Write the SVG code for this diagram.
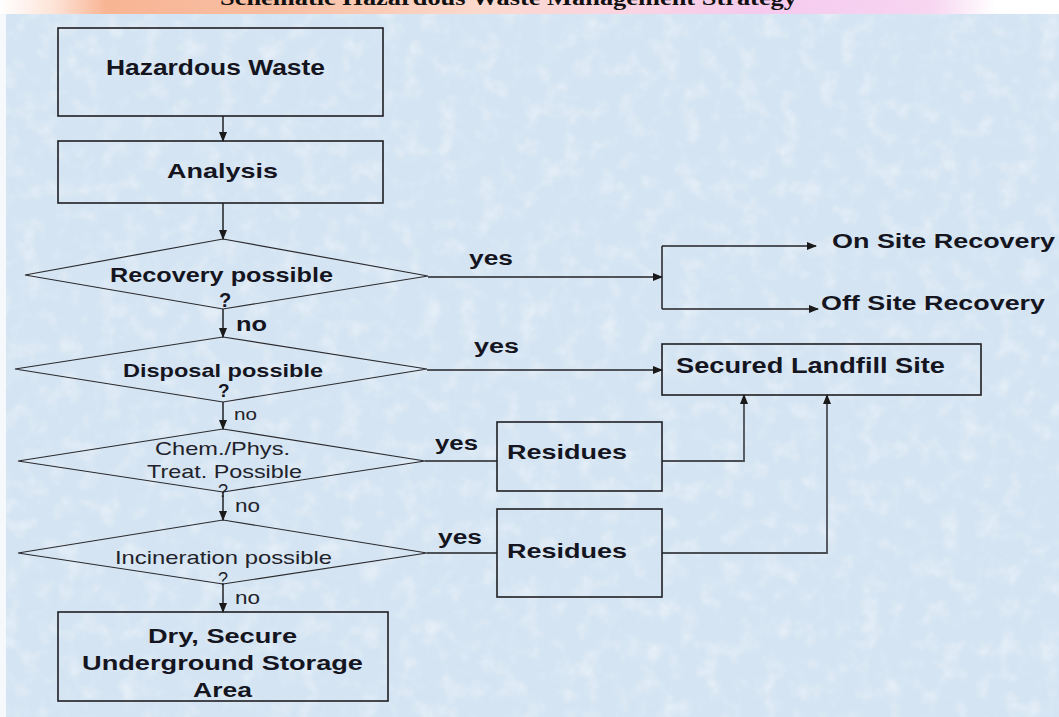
<svg xmlns="http://www.w3.org/2000/svg" width="1059" height="717" viewBox="0 0 1059 717">
  <defs>
    <linearGradient id="band" x1="0" y1="0" x2="1" y2="0">
      <stop offset="0" stop-color="#ffffff"/>
      <stop offset="0.05" stop-color="#fde4d8"/>
      <stop offset="0.1" stop-color="#f8b594"/>
      <stop offset="0.26" stop-color="#f8bea2"/>
      <stop offset="0.45" stop-color="#fbd9cc"/>
      <stop offset="0.6" stop-color="#f9d4e4"/>
      <stop offset="0.72" stop-color="#f5caee"/>
      <stop offset="0.88" stop-color="#f7d6f1"/>
      <stop offset="0.94" stop-color="#ffffff"/>
      <stop offset="1" stop-color="#ffffff"/>
    </linearGradient>
    <filter id="tex" x="0" y="0" width="100%" height="100%">
      <feTurbulence type="fractalNoise" baseFrequency="0.05" numOctaves="3" seed="4" result="n"/>
      <feColorMatrix in="n" type="matrix" values="0 0 0 0 1  0 0 0 0 1  0 0 0 0 1  0 0 0 1.6 -0.75" result="a"/>
      <feComposite in="a" in2="SourceGraphic" operator="in"/>
    </filter>
    <marker id="ah" markerWidth="10" markerHeight="8" refX="9" refY="4" orient="auto" markerUnits="userSpaceOnUse">
      <path d="M0,0 L10,4 L0,8 Z" fill="#1a1a1a"/>
    </marker>
  </defs>
  <style>
    .box { fill: none; stroke: #1e1e22; stroke-width: 1.6; }
    .dia { fill: none; stroke: #2a2a2e; stroke-width: 1.2; }
    .ln { fill: none; stroke: #222226; stroke-width: 1.5; }
    .ln2 { fill: none; stroke: #4a4e55; stroke-width: 1.8; }
    .b { font-family: "Liberation Sans", Arial, sans-serif; font-weight: bold; fill: #15151f; }
    .r { font-family: "Liberation Sans", Arial, sans-serif; fill: #22222a; }
    .title { font-family: "Liberation Serif", "Times New Roman", serif; font-weight: bold; fill: #111; }
  </style>

  <rect x="0" y="0" width="1059" height="717" fill="#f6f9fc"/>
  <rect x="0" y="0" width="1059" height="14" fill="url(#band)"/>
  <text class="title" x="220" y="5" font-size="21" textLength="577" lengthAdjust="spacingAndGlyphs">Schematic Hazardous Waste Management Strategy</text>
  <rect x="6" y="14" width="1053" height="703" fill="#d4e4f2"/>
  <rect x="6" y="14" width="1053" height="703" fill="#d4e4f2" filter="url(#tex)" opacity="0.55"/>

  <g id="connectors">
    <line class="ln" x1="223" y1="116" x2="223" y2="141" marker-end="url(#ah)"/>
    <line class="ln" x1="223" y1="203" x2="223" y2="239" marker-end="url(#ah)"/>
    <line class="ln" x1="223" y1="309" x2="223" y2="337" marker-end="url(#ah)"/>
    <line class="ln" x1="223" y1="402" x2="223" y2="429" marker-end="url(#ah)"/>
    <line class="ln" x1="223" y1="492" x2="223" y2="520" marker-end="url(#ah)"/>
    <line class="ln" x1="223" y1="584" x2="223" y2="612" marker-end="url(#ah)"/>
    <line class="ln" x1="428" y1="277" x2="662" y2="277" marker-end="url(#ah)"/>
    <line class="ln" x1="662" y1="246" x2="662" y2="309"/>
    <line class="ln" x1="662" y1="246" x2="816" y2="246" marker-end="url(#ah)"/>
    <line class="ln" x1="662" y1="309" x2="818" y2="309" marker-end="url(#ah)"/>
    <line class="ln" x1="427" y1="370" x2="662" y2="370" marker-end="url(#ah)"/>
    <line class="ln" x1="425" y1="461" x2="497" y2="461"/>
    <line class="ln" x1="427" y1="553" x2="497" y2="553"/>
    <polyline class="ln2" points="662,461 744,461 744,395" marker-end="url(#ah)"/>
    <polyline class="ln2" points="662,553 827,553 827,395" marker-end="url(#ah)"/>
    <text class="b" x="469" y="265" font-size="20" textLength="44" lengthAdjust="spacingAndGlyphs">yes</text>
    <text class="b" x="474" y="353" font-size="20" textLength="45" lengthAdjust="spacingAndGlyphs">yes</text>
    <text class="b" x="435" y="450" font-size="20" textLength="43" lengthAdjust="spacingAndGlyphs">yes</text>
    <text class="b" x="438" y="544" font-size="20" textLength="44" lengthAdjust="spacingAndGlyphs">yes</text>
    <text class="b" x="236" y="331" font-size="20" textLength="31" lengthAdjust="spacingAndGlyphs">no</text>
    <text class="r" x="234" y="420" font-size="17" textLength="23" lengthAdjust="spacingAndGlyphs">no</text>
    <text class="r" x="235" y="512" font-size="18" textLength="25" lengthAdjust="spacingAndGlyphs">no</text>
    <text class="r" x="235" y="604" font-size="18" textLength="25" lengthAdjust="spacingAndGlyphs">no</text>
  </g>

  <g id="hazardous-waste">
    <rect class="box" x="58" y="28" width="325" height="88"/>
    <text class="b" x="106" y="75" font-size="22" textLength="219" lengthAdjust="spacingAndGlyphs">Hazardous Waste</text>
  </g>

  <g id="analysis">
    <rect class="box" x="58" y="141" width="325" height="62"/>
    <text class="b" x="167" y="178" font-size="21" textLength="111" lengthAdjust="spacingAndGlyphs">Analysis</text>
  </g>

  <g id="recovery-possible">
    <polygon class="dia" points="223,239 428,276 223,309 25,275"/>
    <text class="b" x="110" y="282" font-size="21" textLength="223" lengthAdjust="spacingAndGlyphs">Recovery possible</text>
    <text class="b" x="219" y="307" font-size="20">?</text>
  </g>

  <g id="disposal-possible">
    <polygon class="dia" points="223,337 427,369 223,402 15,369"/>
    <text class="b" x="123" y="377" font-size="19" textLength="200" lengthAdjust="spacingAndGlyphs">Disposal possible</text>
    <text class="b" x="218" y="397" font-size="19">?</text>
  </g>

  <g id="chem-phys-treat">
    <polygon class="dia" points="223,429 425,461 223,492 18,461"/>
    <text class="r" x="155" y="455" font-size="19" textLength="135" lengthAdjust="spacingAndGlyphs">Chem./Phys.</text>
    <text class="r" x="147" y="478" font-size="19" textLength="155" lengthAdjust="spacingAndGlyphs">Treat. Possible</text>
    <text class="r" x="218" y="497" font-size="18">?</text>
  </g>

  <g id="incineration-possible">
    <polygon class="dia" points="223,520 427,553 223,584 18,553"/>
    <text class="r" x="115" y="564" font-size="19" textLength="217" lengthAdjust="spacingAndGlyphs">Incineration possible</text>
    <text class="r" x="218" y="585" font-size="18">?</text>
  </g>

  <g id="underground-storage">
    <rect class="box" x="58" y="612" width="330" height="89"/>
    <text class="b" x="148" y="643" font-size="20" textLength="149" lengthAdjust="spacingAndGlyphs">Dry, Secure</text>
    <text class="b" x="82" y="670" font-size="20" textLength="281" lengthAdjust="spacingAndGlyphs">Underground Storage</text>
    <text class="b" x="193" y="697" font-size="20" textLength="59" lengthAdjust="spacingAndGlyphs">Area</text>
  </g>

  <g id="on-site-recovery">
    <text class="b" x="832" y="248" font-size="20" textLength="223" lengthAdjust="spacingAndGlyphs">On Site Recovery</text>
  </g>

  <g id="off-site-recovery">
    <text class="b" x="821" y="310" font-size="20" textLength="224" lengthAdjust="spacingAndGlyphs">Off Site Recovery</text>
  </g>

  <g id="secured-landfill">
    <rect class="box" x="662" y="344" width="319" height="51"/>
    <text class="b" x="676" y="373" font-size="22" textLength="269" lengthAdjust="spacingAndGlyphs">Secured Landfill Site</text>
  </g>

  <g id="residues-1">
    <rect class="box" x="497" y="422" width="165" height="69"/>
    <text class="b" x="507" y="459" font-size="21" textLength="120" lengthAdjust="spacingAndGlyphs">Residues</text>
  </g>

  <g id="residues-2">
    <rect class="box" x="497" y="509" width="165" height="88"/>
    <text class="b" x="507" y="558" font-size="21" textLength="120" lengthAdjust="spacingAndGlyphs">Residues</text>
  </g>
</svg>
